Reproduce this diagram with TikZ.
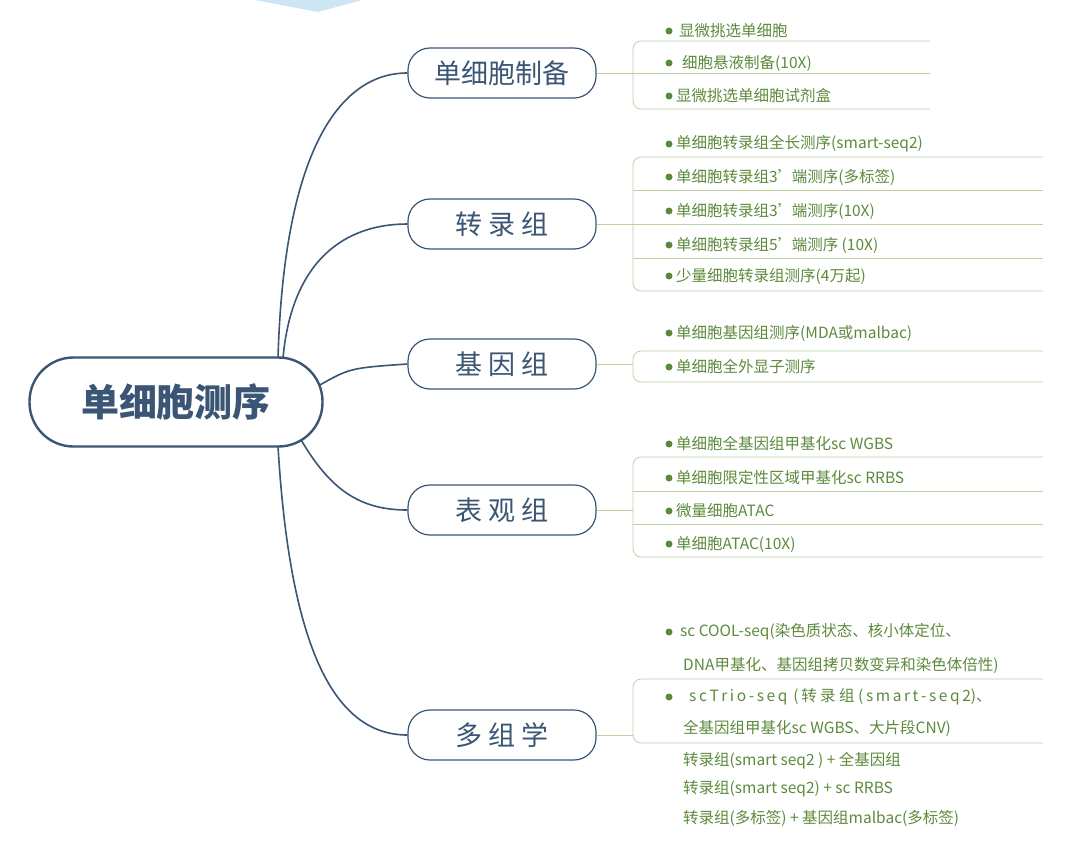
\documentclass[tikz,border=0pt]{standalone}
\usepackage{fontspec}
\setmainfont{Noto Sans CJK SC}
\begin{document}
\begin{tikzpicture}[x=1pt,y=-1pt,
  blue/.style={draw=dblue,line width=1.6pt},
  branch/.style={draw=dblue,line width=1.2pt,fill=white,rounded corners=22pt,minimum width=188pt,minimum height=50pt,text=dblue,font=\fontsize{27}{27}\selectfont},
  item/.style={anchor=west,text=dgreen,font=\fontsize{15.5}{16}\selectfont,inner sep=0pt},
  gl/.style={draw=lgreen,line width=0.8pt},
  dot/.style={circle,fill=dgreen,inner sep=0pt,minimum size=7pt}]
\definecolor{dblue}{HTML}{3B5575}
\definecolor{dgreen}{HTML}{5C8A3C}
\definecolor{lgreen}{HTML}{BCCFA0}
\definecolor{sky}{HTML}{CDE6F3}
\useasboundingbox (0,0) rectangle (1069,846);
\fill[sky] (255,0) -- (362,0) -- (318,12) -- cycle;
\coordinate (r1) at (278,358);
\coordinate (r2) at (283,358);
\coordinate (r3) at (318,386);
\coordinate (r4) at (300,438);
\coordinate (r5) at (278,446);
\node[branch] (b1) at (502,73) {单细胞制备};
\node[branch] (b2) at (502,224) {转\hspace{6pt}录\hspace{6pt}组};
\node[branch] (b3) at (502,364) {基\hspace{6pt}因\hspace{6pt}组};
\node[branch] (b4) at (502,510) {表\hspace{6pt}观\hspace{6pt}组};
\node[branch] (b5) at (502,735) {多\hspace{6pt}组\hspace{6pt}学};
\draw[blue] (r1) .. controls (284,150) and (340,73) .. (b1.west);
\draw[blue] (r2) .. controls (292,260) and (345,224) .. (b2.west);
\draw[blue] (r3) .. controls (350,368) .. (b3.west);
\draw[blue] (r4) .. controls (330,490) and (360,510) .. (b4.west);
\draw[blue] (r5) .. controls (290,650) and (335,735) .. (b5.west);
\node[draw=dblue,line width=2.4pt,fill=white,rounded corners=44pt,minimum width=293pt,minimum height=89pt,text=dblue,font=\fontsize{38}{38}\selectfont\bfseries] (root) at (176,402) {单细胞测序};
% group 1
\coordinate (g1) at (633,73);
\draw[gl] (b1.east) -- (g1);
\draw[gl,rounded corners=8pt] (930,41) -- (633,41) -- (633,109) -- (930,109);
\draw[gl] (g1) -- (930,73);
\node[dot] (d11) at (669,31) {}; \node[item] (t11) at (679,31) {显微挑选单细胞};
\node[dot] (d12) at (669,63) {}; \node[item] (t12) at (682,63) {细胞悬液制备(10X)};
\node[dot] (d13) at (669,96) {}; \node[item] (t13) at (676,96) {显微挑选单细胞试剂盒};
% group 2
\coordinate (g2) at (633,224);
\draw[gl] (b2.east) -- (g2);
\draw[gl,rounded corners=8pt] (1043,157) -- (633,157) -- (633,291) -- (1043,291);
\foreach \y in {190,224,258} \draw[gl] (633,\y) -- (1043,\y);
\node[dot] (d21) at (669,144) {}; \node[item] (t21) at (676,144) {单细胞转录组全长测序(smart-seq2)};
\node[dot] (d22) at (669,177) {}; \node[item] (t22) at (676,177) {单细胞转录组3’\hspace{-5pt} 端测序(多标签)};
\node[dot] (d23) at (669,211) {}; \node[item] (t23) at (676,211) {单细胞转录组3’\hspace{-5pt} 端测序(10X)};
\node[dot] (d24) at (669,245) {}; \node[item] (t24) at (676,245) {单细胞转录组5’\hspace{-5pt} 端测序 (10X)};
\node[dot] (d25) at (669,276) {}; \node[item] (t25) at (676,276) {少量细胞转录组测序(4万起)};
% group 3
\coordinate (g3) at (633,364);
\draw[gl] (b3.east) -- (g3);
\draw[gl,rounded corners=8pt] (1043,351) -- (633,351) -- (633,382) -- (1043,382);
\node[dot] (d31) at (669,333) {}; \node[item] (t31) at (676,333) {单细胞基因组测序(MDA或malbac)};
\node[dot] (d32) at (669,367) {}; \node[item] (t32) at (676,367) {单细胞全外显子测序};
% group 4
\coordinate (g4) at (633,510);
\draw[gl] (b4.east) -- (g4);
\draw[gl,rounded corners=8pt] (1043,457) -- (633,457) -- (633,557) -- (1043,557);
\foreach \y in {491,524} \draw[gl] (633,\y) -- (1043,\y);
\node[dot] (d41) at (669,444) {}; \node[item] (t41) at (676,444) {单细胞全基因组甲基化sc WGBS};
\node[dot] (d42) at (669,478) {}; \node[item] (t42) at (676,478) {单细胞限定性区域甲基化sc RRBS};
\node[dot] (d43) at (669,511) {}; \node[item] (t43) at (676,511) {微量细胞ATAC};
\node[dot] (d44) at (669,544) {}; \node[item] (t44) at (676,544) {单细胞ATAC(10X)};
% group 5
\coordinate (g5) at (633,735);
\draw[gl] (b5.east) -- (g5);
\draw[gl,rounded corners=8pt] (1043,679) -- (633,679) -- (633,743) -- (1043,743);
\node[dot] (d51) at (669,632) {}; \node[item] (t51) at (680,632) {sc COOL-seq(染色质状态、核小体定位、};
\node[item] (t52) at (683,665) {DNA甲基化、基因组拷贝数变异和染色体倍性)};
\node[dot] (d53) at (669,697) {}; \node[item] (t53) at (689,697) {s\,c\,T\,r\,i\,o\,-\,s\,e\,q\, (\,转 录 组 (\,s\,m\,a\,r\,t\,-\,s\,e\,q\,2)、};
\node[item] (t54) at (683,728) {全基因组甲基化sc WGBS、大片段CNV)};
\node[item] (t55) at (683,761) {转录组(smart seq2 ) + 全基因组};
\node[item] (t56) at (683,789) {转录组(smart seq2) + sc RRBS};
\node[item] (t57) at (683,818) {转录组(多标签) + 基因组malbac(多标签)};
\end{tikzpicture}
\end{document}
